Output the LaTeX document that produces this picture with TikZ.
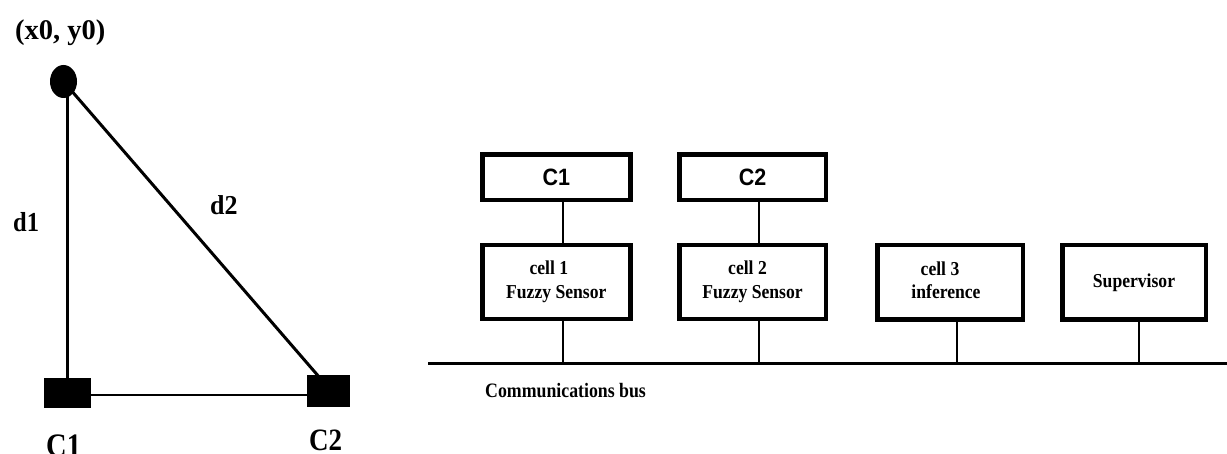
\documentclass[tikz,border=0pt]{standalone}
\usepackage{fontspec}
\usepackage{graphicx}
\setmainfont{Liberation Serif}
\newfontfamily\arialfont{Liberation Sans}
\usetikzlibrary{shapes.geometric,backgrounds,calc}

% vertically stretched text
\newcommand{\vstretch}[2]{\scalebox{1}[#1]{#2}}
% two-line centred label block
\newcommand{\twoline}[2]{\vstretch{1.12}{\fontsize{17.6}{20.8}\selectfont\bfseries
  \begin{tabular}{@{}c@{}}#1\\#2\end{tabular}}}

\tikzset{
  blob/.style={fill=black, draw=none, inner sep=0pt},
  unitbox/.style={draw=black, line width=4.5pt, fill=white, inner sep=0pt, anchor=center},
  wire/.style={line width=2pt},
  leftlabel/.style={inner sep=0pt, anchor=base west},
}

\begin{document}
\begin{tikzpicture}[x=1pt, y=-1pt]
\useasboundingbox (0,0) rectangle (1227,454);

% ---------- geometry sketch ----------
\node[blob, ellipse, minimum width=27pt, minimum height=33pt] (p0) at (63.5,81.5) {};
\node[blob, rectangle, minimum width=47pt, minimum height=30pt] (s1) at (67.5,393) {};
\node[blob, rectangle, minimum width=43pt, minimum height=32pt] (s2) at (328.5,391) {};
\coordinate (tip) at ($(s2.north west)!0.3!(s2.north east)+(0,3)$);

\begin{scope}[on background layer]
  \draw[line width=2.2pt] (s1.north) -- (s1.north |- p0.center);
  \draw[line width=3pt] (p0.center) -- (tip);
  \draw[line width=2.5pt] ([yshift=-2pt]s1.east) -- ([yshift=-2pt]s1.east -| s2.west);
\end{scope}

\node[leftlabel] (lp0) at (15,40) {\fontsize{28.5}{30}\selectfont\bfseries (x0, y0)};
\node[leftlabel] (ld1) at (13,232) {\vstretch{1.12}{\fontsize{24.5}{28}\selectfont\bfseries d1}};
\node[leftlabel] (ld2) at (210,215) {\vstretch{1.05}{\fontsize{26}{28}\selectfont\bfseries d2}};
\node[leftlabel] (lc1) at (46,456) {\vstretch{1.15}{\fontsize{28.5}{30}\selectfont\bfseries C1}};
\node[leftlabel] (lc2) at (309,450.5) {\vstretch{1.15}{\fontsize{27}{30}\selectfont\bfseries C2}};

% ---------- cell network ----------
\node[unitbox, minimum width=148pt, minimum height=45.5pt] (c1box) at (556.3,177.3)
  {\vstretch{1.1}{\arialfont\bfseries\fontsize{21.5}{24}\selectfont C1}};
\node[unitbox, minimum width=146.5pt, minimum height=45.5pt] (c2box) at (752.5,177.3)
  {\vstretch{1.1}{\arialfont\bfseries\fontsize{21.5}{24}\selectfont C2}};

\node[unitbox, minimum width=148pt, minimum height=73.8pt] (cell1) at (556.3,281.9)
  {\twoline{cell 1\hspace*{15pt}}{Fuzzy Sensor}};
\node[unitbox, minimum width=146.5pt, minimum height=73.8pt] (cell2) at (752.5,281.9)
  {\twoline{cell 2\hspace*{10pt}}{Fuzzy Sensor}};
\node[unitbox, minimum width=145.5pt, minimum height=74.5pt] (cell3) at (950,282.5)
  {\twoline{cell 3\hspace*{20pt}}{inference\hspace*{8pt}}};
\node[unitbox, minimum width=143.5pt, minimum height=74.5pt] (sup) at (1134,282.5)
  {\vstretch{1.12}{\fontsize{17.6}{20.8}\selectfont\bfseries Supervisor}};

\coordinate (busL) at (428,364);
\coordinate (busR) at (1227,364);

\begin{scope}[on background layer]
  \draw[line width=3pt] (busL) -- (busR);
  \draw[wire] ([xshift=7pt]c1box.south) -- ([xshift=7pt]cell1.north);
  \draw[wire] ([xshift=6.5pt]c2box.south) -- ([xshift=6.5pt]cell2.north);
  \draw[wire] ([xshift=7pt]cell1.south) -- ([xshift=7pt]cell1.south |- busL);
  \draw[wire] ([xshift=6.5pt]cell2.south) -- ([xshift=6.5pt]cell2.south |- busL);
  \draw[wire] ([xshift=7pt]cell3.south) -- ([xshift=7pt]cell3.south |- busL);
  \draw[wire] ([xshift=5pt]sup.south) -- ([xshift=5pt]sup.south |- busL);
\end{scope}

\node[leftlabel] (busname) at (485,398)
  {\vstretch{1.15}{\fontsize{17.8}{20}\selectfont\bfseries Communications bus}};
\end{tikzpicture}
\end{document}
